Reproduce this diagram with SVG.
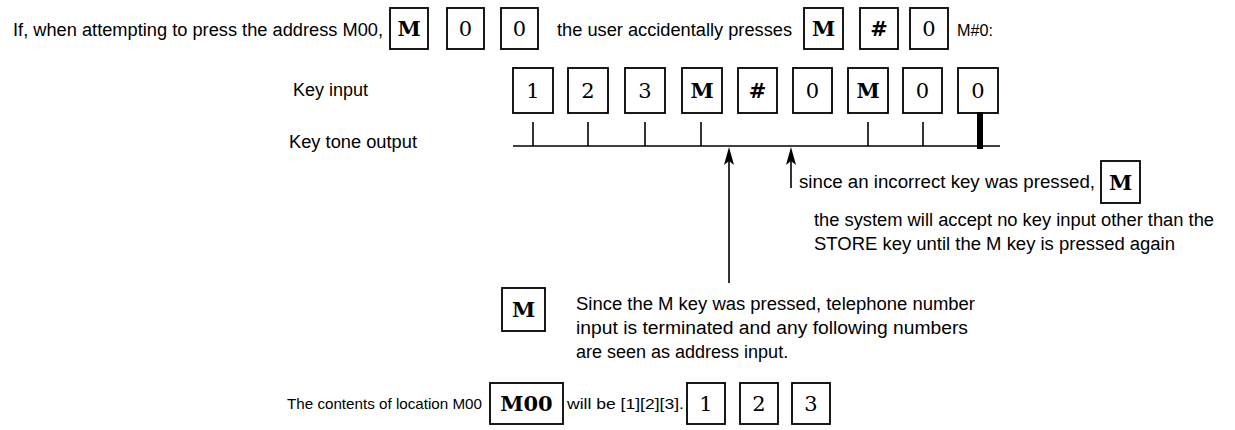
<svg xmlns="http://www.w3.org/2000/svg" width="1235" height="430" viewBox="0 0 1235 430">
<style>
.t{font-family:"Liberation Sans",Arial,sans-serif;font-size:18px;fill:#000}
.s{font-family:"Liberation Sans",Arial,sans-serif;font-size:15px;fill:#000}
.b{fill:#fff;stroke:#000;stroke-width:1.8}
.k{font-family:"DejaVu Serif","Liberation Serif",serif;font-size:21px;text-anchor:middle;fill:#000}
.m{font-weight:bold}
.ln{stroke:#000;stroke-width:1.6;fill:none}
.ah{fill:#000}
</style>
<rect width="1235" height="430" fill="#fff"/>

<g id="row1">
<text class="t" x="13" y="36" textLength="370" lengthAdjust="spacingAndGlyphs">If, when attempting to press the address M00,</text>
<g id="r1-M"><rect class="b" x="390" y="8" width="38" height="41"/><text class="k m" x="409" y="36">M</text></g>
<g id="r1-0a"><rect class="b" x="447" y="8" width="37" height="41"/><text class="k" x="465.5" y="36">0</text></g>
<g id="r1-0b"><rect class="b" x="501" y="8" width="37" height="41"/><text class="k" x="519.5" y="36">0</text></g>
<text class="t" x="557" y="36" textLength="235" lengthAdjust="spacingAndGlyphs">the user accidentally presses</text>
<g id="r1-M2"><rect class="b" x="804" y="8" width="39" height="41"/><text class="k m" x="823.5" y="36">M</text></g>
<g id="r1-hash"><rect class="b" x="860" y="8" width="38" height="41"/><text class="k m" x="879" y="36">#</text></g>
<g id="r1-0c"><rect class="b" x="910" y="8" width="38" height="41"/><text class="k" x="929" y="36">0</text></g>
<text class="t" x="957" y="36" style="font-size:16px" textLength="36" lengthAdjust="spacingAndGlyphs">M#0:</text>
</g>

<g id="keyinput">
<text class="t" x="293" y="96" textLength="75" lengthAdjust="spacingAndGlyphs">Key input</text>
<g id="ki1"><rect class="b" x="513" y="68" width="40" height="45"/><text class="k" x="533" y="98">1</text></g>
<g id="ki2"><rect class="b" x="568" y="68" width="40" height="45"/><text class="k" x="588" y="98">2</text></g>
<g id="ki3"><rect class="b" x="625" y="68" width="40" height="45"/><text class="k" x="645" y="98">3</text></g>
<g id="ki4"><rect class="b" x="682" y="68" width="40" height="45"/><text class="k m" x="702" y="98">M</text></g>
<g id="ki5"><rect class="b" x="738" y="68" width="39" height="45"/><text class="k m" x="757.5" y="98">#</text></g>
<g id="ki6"><rect class="b" x="793" y="68" width="39" height="45"/><text class="k" x="812.5" y="98">0</text></g>
<g id="ki7"><rect class="b" x="848" y="68" width="40" height="45"/><text class="k m" x="868" y="98">M</text></g>
<g id="ki8"><rect class="b" x="903" y="68" width="39" height="45"/><text class="k" x="922.5" y="98">0</text></g>
<g id="ki9"><rect class="b" x="958" y="68" width="40" height="45"/><text class="k" x="978" y="98">0</text></g>
</g>

<g id="keytone">
<text class="t" x="289" y="148" textLength="128" lengthAdjust="spacingAndGlyphs">Key tone output</text>
</g>

<g id="connectors">
<line class="ln" x1="513" y1="146" x2="1000" y2="146"/>
<line class="ln" x1="533" y1="122" x2="533" y2="146"/>
<line class="ln" x1="588" y1="122" x2="588" y2="146"/>
<line class="ln" x1="645" y1="122" x2="645" y2="146"/>
<line class="ln" x1="701" y1="122" x2="701" y2="146"/>
<line class="ln" x1="868" y1="122" x2="868" y2="146"/>
<line class="ln" x1="923" y1="122" x2="923" y2="146"/>
<rect x="977" y="112" width="6" height="37" fill="#000"/>
<line class="ln" x1="729" y1="283" x2="729" y2="158"/>
<polygon class="ah" points="729,147 724,165 729,161 734,165"/>
<line class="ln" x1="791" y1="188" x2="791" y2="158"/>
<polygon class="ah" points="791,147 786,165 791,161 796,165"/>
</g>

<g id="note-incorrect">
<text class="t" x="799" y="188" textLength="296" lengthAdjust="spacingAndGlyphs">since an incorrect key was pressed,</text>
<g id="ni-M"><rect class="b" x="1101" y="161" width="39" height="42"/><text class="k m" x="1120.5" y="190">M</text></g>
<text class="t" x="814" y="226" textLength="400" lengthAdjust="spacingAndGlyphs">the system will accept no key input other than the</text>
<text class="t" x="814" y="250" textLength="361" lengthAdjust="spacingAndGlyphs">STORE key until the M key is pressed again</text>
</g>

<g id="note-M">
<g id="nm-M"><rect class="b" x="502" y="288" width="43" height="43"/><text class="k m" x="523.5" y="317">M</text></g>
<text class="t" x="576" y="310" textLength="399" lengthAdjust="spacingAndGlyphs">Since the M key was pressed, telephone number</text>
<text class="t" x="576" y="334" textLength="392" lengthAdjust="spacingAndGlyphs">input is terminated and any following numbers</text>
<text class="t" x="576" y="358">are seen as address input.</text>
</g>

<g id="contents">
<text class="s" x="287" y="409" textLength="195" lengthAdjust="spacingAndGlyphs">The contents of location M00</text>
<g id="c-M00"><rect class="b" x="490" y="383" width="73" height="41"/><text class="k m" x="526.5" y="411">M00</text></g>
<text class="s" x="567" y="409" textLength="117" lengthAdjust="spacingAndGlyphs">will be [1][2][3].</text>
<g id="c1"><rect class="b" x="687" y="383" width="38" height="41"/><text class="k" x="706" y="411">1</text></g>
<g id="c2"><rect class="b" x="740" y="383" width="38" height="41"/><text class="k" x="759" y="411">2</text></g>
<g id="c3"><rect class="b" x="792" y="383" width="38" height="41"/><text class="k" x="811" y="411">3</text></g>
</g>
</svg>
